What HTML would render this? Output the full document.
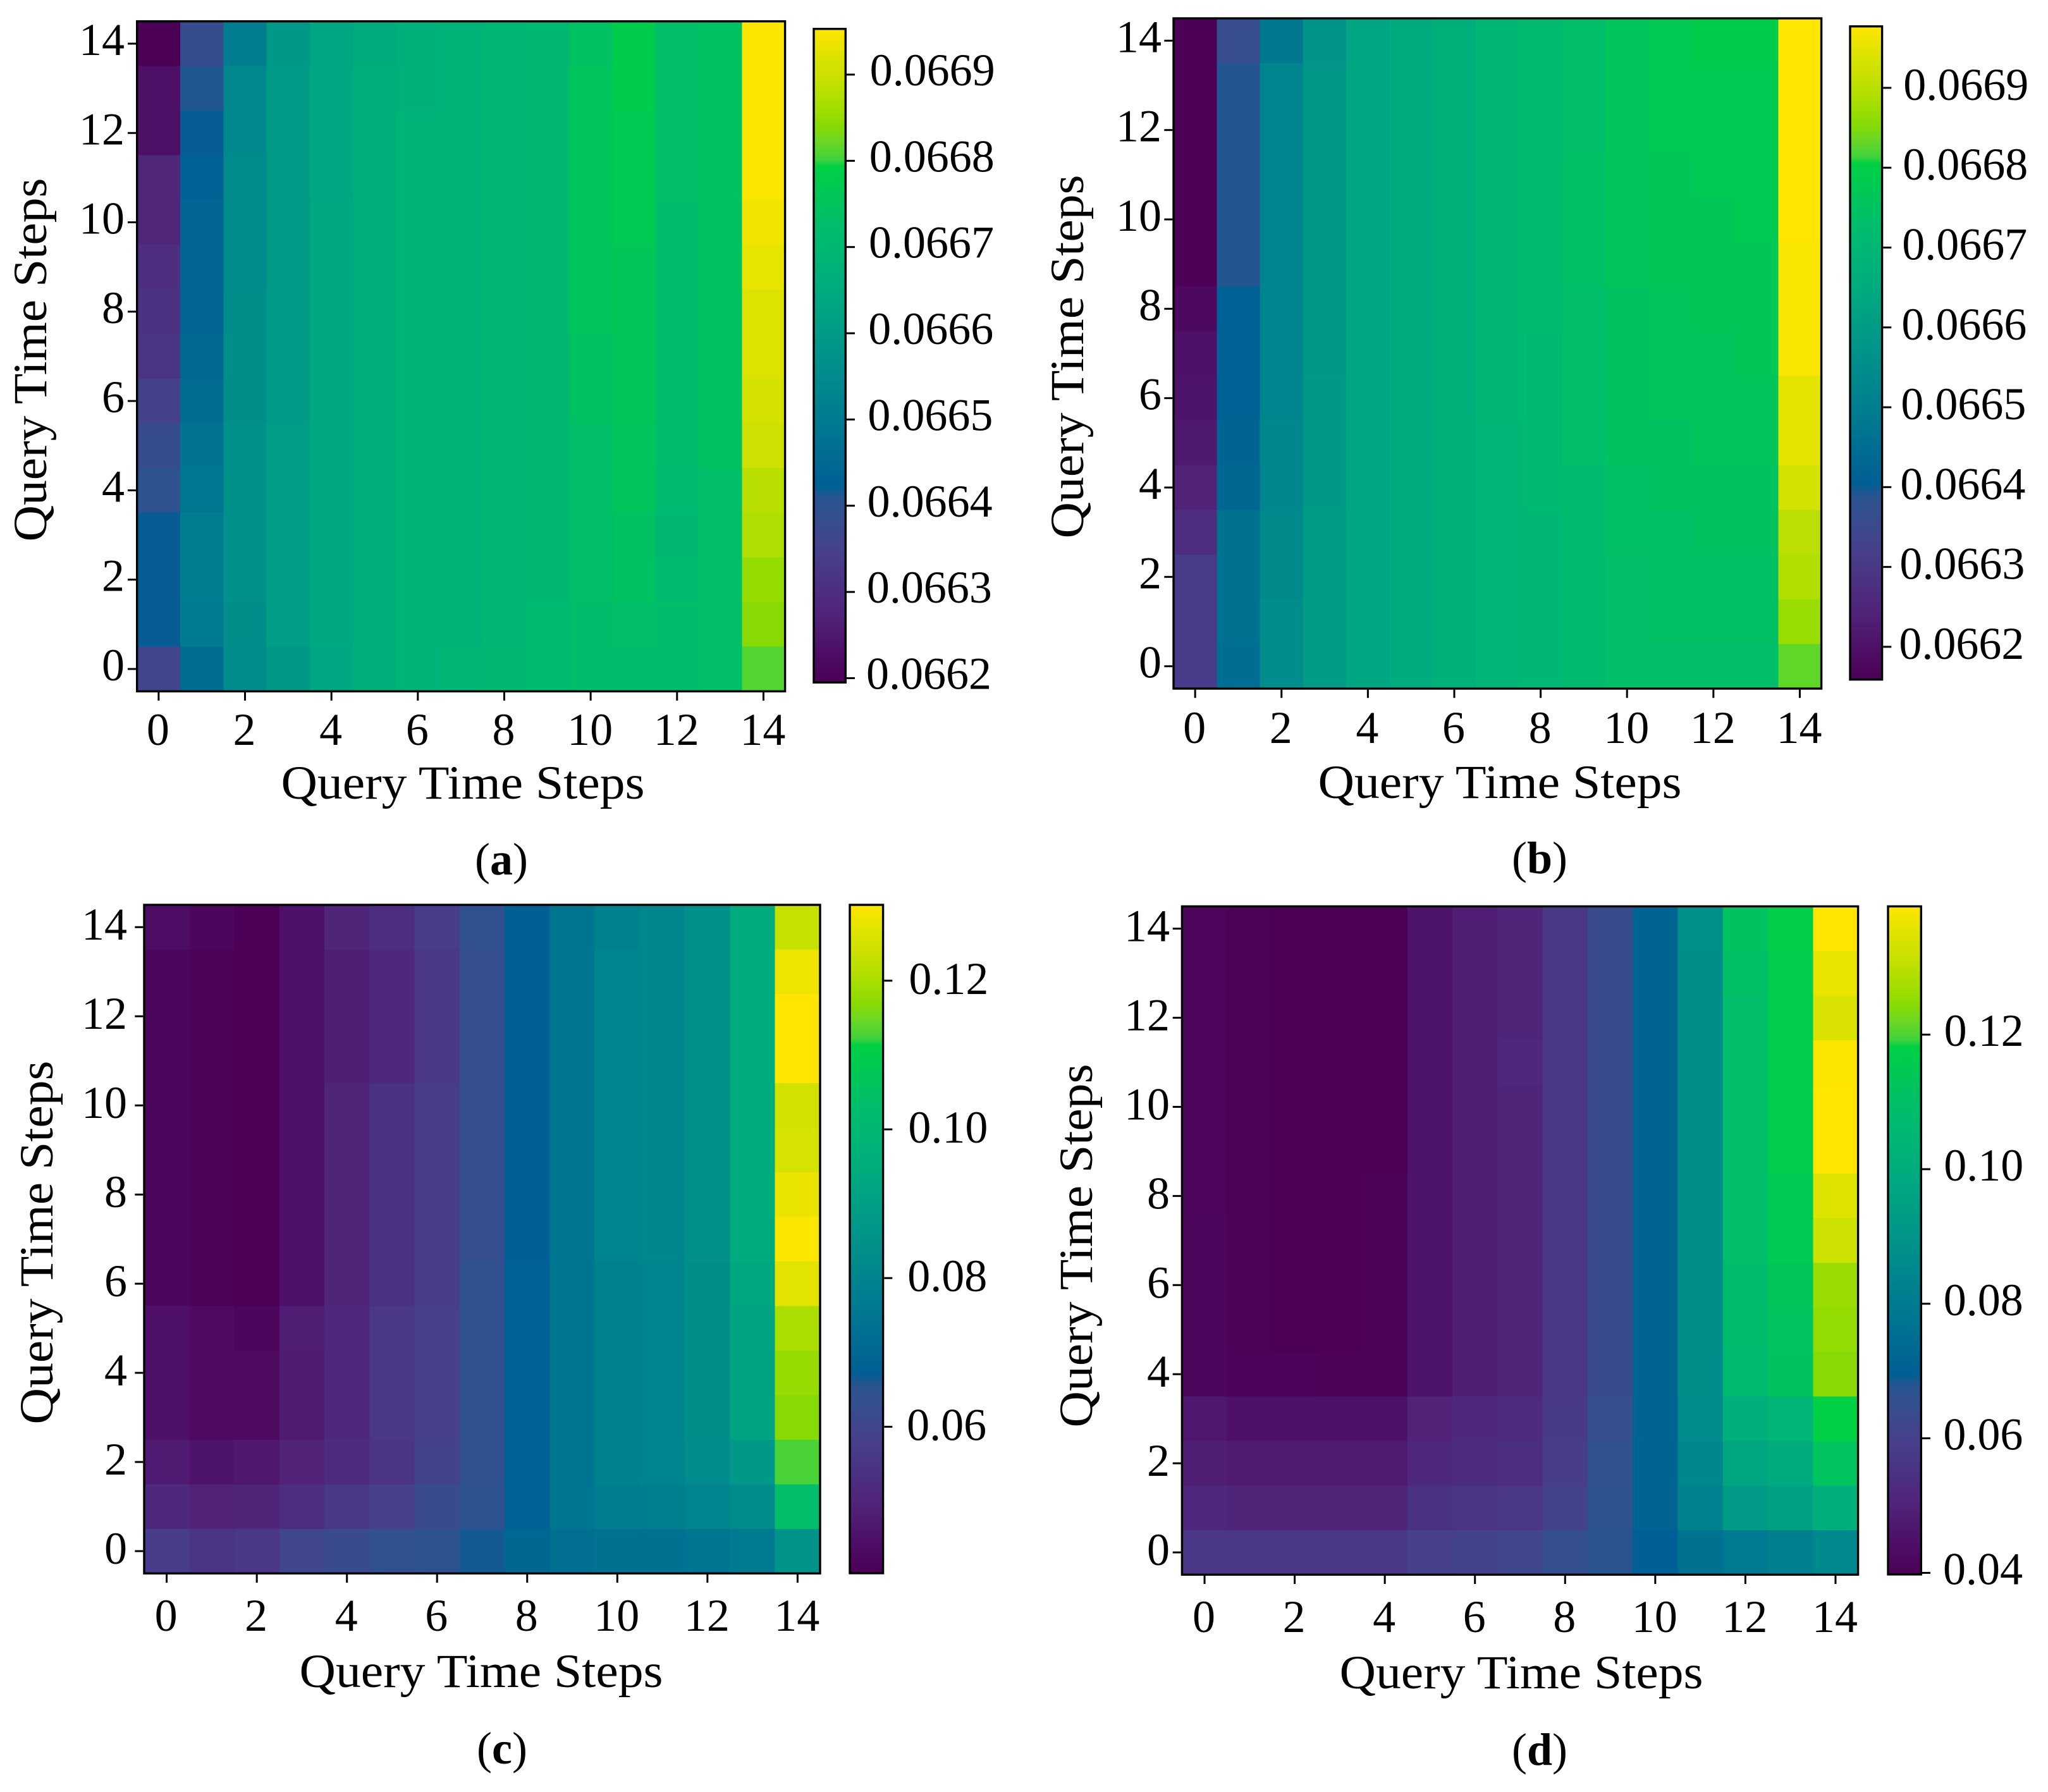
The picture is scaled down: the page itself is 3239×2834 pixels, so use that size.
<!DOCTYPE html>
<html lang="en">
<head>
<meta charset="utf-8">
<title>Query Time Steps heatmaps</title>
<style>
html,body{margin:0;padding:0;background:#fff;}
svg{display:block;}
text{font-family:"Liberation Serif",serif;fill:#000;}
</style>
</head>
<body>
<svg id="figure" xmlns="http://www.w3.org/2000/svg" width="3239" height="2834" viewBox="0 0 3239 2834"></svg>
<script>
// Axis tick indices shared by all panels
const axisTicks = [0, 2, 4, 6, 8, 10, 12, 14];

// Colormap
const cmapPositions = [0, .05, .1, .2, .25, .28, .30, .4, .5, .6, .65, .7, .79, .80, .83, .85, .88, .92, .96, 1];
const cmapColors = ["#4b0055","#4e1068","#502278","#47408c","#354e8e","#2a5490","#005f94","#007a90","#00938a","#00ab7e","#00b576","#00be6a","#00d044","#40d23c","#70d820","#88da05","#a4de00","#c6e000","#dfe300","#ffe600"];

// Heat values: each inner array is one x column, listed from y=14 down to y=0
const panelAValues = [
[.06619,.06623,.06623,.06628,.06628,.06630,.06631,.06632,.06635,.06638,.06640,.06642,.06642,.06642,.06636],
[.06638,.06641,.06642,.06643,.06644,.06644,.06644,.06645,.06646,.06648,.06649,.06651,.06651,.06650,.06646],
[.06651,.06654,.06654,.06655,.06655,.06655,.06656,.06656,.06656,.06657,.06657,.06657,.06657,.06656,.06655],
[.06659,.06660,.06660,.06660,.06660,.06660,.06660,.06660,.06660,.06661,.06661,.06661,.06661,.06661,.06659],
[.06663,.06663,.06663,.06663,.06664,.06664,.06664,.06664,.06664,.06664,.06664,.06664,.06664,.06664,.06663],
[.06665,.06666,.06666,.06666,.06666,.06666,.06666,.06666,.06666,.06666,.06666,.06666,.06666,.06666,.06666],
[.06667,.06667,.06668,.06668,.06668,.06668,.06668,.06668,.06668,.06668,.06668,.06668,.06668,.06668,.06668],
[.06668,.06668,.06668,.06668,.06668,.06668,.06668,.06668,.06668,.06668,.06668,.06668,.06668,.06668,.06669],
[.06669,.06669,.06669,.06669,.06669,.06669,.06669,.06669,.06669,.06669,.06669,.06669,.06669,.06669,.06670],
[.06670,.06670,.06670,.06670,.06670,.06670,.06670,.06670,.06670,.06670,.06670,.06670,.06670,.06671,.06671],
[.06674,.06675,.06675,.06675,.06675,.06675,.06675,.06674,.06674,.06673,.06673,.06673,.06673,.06672,.06672],
[.06678,.06678,.06677,.06677,.06677,.06676,.06676,.06676,.06676,.06675,.06675,.06674,.06674,.06673,.06672],
[.06673,.06673,.06673,.06673,.06672,.06672,.06672,.06672,.06672,.06672,.06671,.06670,.06671,.06672,.06672],
[.06674,.06674,.06674,.06674,.06674,.06674,.06674,.06674,.06674,.06674,.06673,.06673,.06673,.06673,.06673],
[.06695,.06695,.06695,.06695,.06694,.06693,.06692,.06692,.06691,.06690,.06688,.06687,.06685,.06684,.06681]
];
const panelBValues = [
[.06616,.06616,.06616,.06616,.06616,.06616,.06618,.06620,.06621,.06622,.06624,.06627,.06631,.06631,.06631],
[.06636,.06639,.06639,.06639,.06639,.06639,.06641,.06641,.06641,.06642,.06643,.06646,.06646,.06646,.06645],
[.06648,.06652,.06652,.06652,.06652,.06652,.06652,.06652,.06652,.06653,.06653,.06654,.06654,.06655,.06655],
[.06657,.06658,.06658,.06658,.06658,.06658,.06658,.06658,.06659,.06659,.06659,.06660,.06660,.06660,.06660],
[.06663,.06663,.06663,.06663,.06663,.06663,.06663,.06663,.06663,.06663,.06663,.06663,.06663,.06663,.06663],
[.06665,.06665,.06665,.06665,.06665,.06665,.06665,.06665,.06665,.06665,.06665,.06665,.06665,.06665,.06665],
[.06667,.06667,.06667,.06667,.06667,.06667,.06667,.06667,.06667,.06667,.06667,.06667,.06667,.06667,.06667],
[.06670,.06670,.06670,.06670,.06670,.06670,.06670,.06670,.06670,.06669,.06669,.06669,.06669,.06669,.06669],
[.06672,.06672,.06672,.06672,.06672,.06672,.06672,.06671,.06671,.06671,.06671,.06670,.06670,.06670,.06670],
[.06673,.06673,.06673,.06674,.06674,.06674,.06673,.06673,.06673,.06673,.06672,.06672,.06672,.06672,.06672],
[.06676,.06676,.06676,.06676,.06676,.06676,.06675,.06675,.06675,.06675,.06674,.06674,.06673,.06673,.06673],
[.06678,.06678,.06678,.06677,.06677,.06677,.06676,.06676,.06676,.06675,.06675,.06674,.06674,.06674,.06673],
[.06679,.06678,.06678,.06678,.06677,.06677,.06677,.06676,.06676,.06676,.06675,.06675,.06674,.06674,.06673],
[.06679,.06678,.06678,.06678,.06678,.06677,.06677,.06677,.06676,.06676,.06675,.06675,.06674,.06674,.06673],
[.06698,.06698,.06698,.06698,.06698,.06697,.06697,.06697,.06695,.06695,.06693,.06690,.06689,.06687,.06683]
];
const panelCValues = [
[.0439,.0421,.0421,.0421,.0421,.0421,.0421,.0421,.0421,.0448,.0448,.0448,.0475,.0511,.0574],
[.0421,.0408,.0408,.0408,.0408,.0408,.0408,.0408,.0408,.0430,.0430,.0430,.0457,.0493,.0547],
[.0403,.0403,.0403,.0403,.0403,.0403,.0403,.0403,.0403,.0421,.0430,.0430,.0466,.0502,.0556],
[.0448,.0448,.0448,.0448,.0448,.0448,.0448,.0448,.0448,.0484,.0475,.0475,.0493,.0529,.0601],
[.0502,.0484,.0484,.0484,.0502,.0502,.0502,.0502,.0502,.0511,.0511,.0511,.0520,.0556,.0619],
[.0529,.0511,.0511,.0511,.0538,.0538,.0538,.0538,.0538,.0556,.0556,.0556,.0547,.0583,.0637],
[.0574,.0556,.0556,.0556,.0574,.0574,.0574,.0574,.0574,.0583,.0583,.0583,.0592,.0619,.0646],
[.0637,.0628,.0628,.0628,.0628,.0628,.0628,.0628,.0637,.0637,.0637,.0637,.0637,.0646,.0664],
[.0673,.0673,.0673,.0673,.0673,.0673,.0673,.0673,.0682,.0682,.0682,.0682,.0682,.0682,.0700],
[.0745,.0745,.0745,.0745,.0745,.0745,.0745,.0745,.0745,.0745,.0745,.0745,.0745,.0745,.0727],
[.0790,.0799,.0799,.0799,.0799,.0799,.0799,.0799,.0790,.0790,.0790,.0790,.0790,.0772,.0736],
[.0808,.0808,.0808,.0808,.0808,.0808,.0808,.0808,.0799,.0799,.0799,.0799,.0799,.0781,.0736],
[.0844,.0844,.0844,.0844,.0844,.0844,.0844,.0844,.0835,.0835,.0835,.0835,.0826,.0799,.0745],
[.0942,.0942,.0942,.0942,.0942,.0942,.0942,.0942,.0933,.0915,.0915,.0915,.0870,.0826,.0763],
[.1230,.1284,.1302,.1302,.1248,.1253,.1280,.1298,.1271,.1199,.1181,.1167,.1127,.1032,.0853]
];
const panelDValues = [
[.0413,.0413,.0413,.0413,.0413,.0413,.0413,.0418,.0418,.0418,.0418,.0467,.0487,.0517,.0567],
[.0403,.0403,.0403,.0403,.0403,.0403,.0403,.0403,.0403,.0403,.0408,.0447,.0477,.0507,.0567],
[.0398,.0398,.0398,.0398,.0398,.0398,.0398,.0398,.0398,.0398,.0408,.0447,.0477,.0507,.0567],
[.0398,.0398,.0398,.0398,.0398,.0398,.0398,.0398,.0398,.0398,.0403,.0447,.0477,.0507,.0567],
[.0398,.0398,.0398,.0398,.0398,.0398,.0403,.0403,.0403,.0403,.0403,.0447,.0477,.0507,.0567],
[.0457,.0457,.0457,.0457,.0457,.0457,.0457,.0457,.0457,.0457,.0457,.0497,.0517,.0547,.0596],
[.0487,.0487,.0487,.0487,.0487,.0487,.0487,.0487,.0487,.0487,.0487,.0517,.0527,.0557,.0606],
[.0507,.0507,.0507,.0517,.0507,.0507,.0507,.0507,.0507,.0507,.0507,.0527,.0537,.0567,.0616],
[.0567,.0567,.0567,.0567,.0567,.0567,.0567,.0567,.0567,.0567,.0567,.0577,.0586,.0606,.0646],
[.0636,.0636,.0636,.0636,.0636,.0636,.0636,.0636,.0636,.0636,.0636,.0646,.0656,.0666,.0676],
[.0715,.0715,.0715,.0715,.0715,.0715,.0715,.0715,.0715,.0715,.0715,.0715,.0715,.0715,.0696],
[.0884,.0874,.0874,.0874,.0874,.0874,.0874,.0874,.0874,.0874,.0874,.0864,.0845,.0825,.0765],
[.1113,.1103,.1093,.1093,.1093,.1093,.1093,.1093,.1083,.1083,.1073,.1013,.0973,.0924,.0795],
[.1172,.1162,.1162,.1162,.1162,.1162,.1152,.1152,.1133,.1123,.1113,.1043,.0993,.0954,.0815],
[.1391,.1366,.1341,.1386,.1391,.1391,.1351,.1321,.1262,.1252,.1242,.1182,.1123,.1013,.0854]
];

// Colorbar tick values and printed labels
const panelATickValues = [.0662, .0663, .0664, .0665, .0666, .0667, .0668, .0669];
const panelATickLabels = ["0.0662", "0.0663", "0.0664", "0.0665", "0.0666", "0.0667", "0.0668", "0.0669"];
const panelBTickValues = [.0662, .0663, .0664, .0665, .0666, .0667, .0668, .0669];
const panelBTickLabels = ["0.0662", "0.0663", "0.0664", "0.0665", "0.0666", "0.0667", "0.0668", "0.0669"];
const panelCTickValues = [.06, .08, .10, .12];
const panelCTickLabels = ["0.06", "0.08", "0.10", "0.12"];
const panelDTickValues = [.04, .06, .08, .10, .12];
const panelDTickLabels = ["0.04", "0.06", "0.08", "0.10", "0.12"];

// Layout of each panel
const panels = [
  {id:"a", values:panelAValues, tickValues:panelATickValues, tickLabels:panelATickLabels, vmin:.066195, vmax:.066953,
   L:215, R:1243.3, T:32, B:1095, cL:1285.3, cR:1339, cT:44, cB:1081,
   xTickBase:1178, xTitleX:732, xTitleY:1263, capX:793, capY:1383, yTitleX:73, yTitleY:569, yLabelR:197, yLabelDy:18, cLabelBottom:1370, cLabelTop:1376, cLabelDy:17},
  {id:"b", values:panelBValues, tickValues:panelBTickValues, tickLabels:panelBTickLabels, vmin:.066159, vmax:.066977,
   L:1854.3, R:2882.3, T:27.3, B:1090.7, cL:2924.3, cR:2978.3, cT:40, cB:1076.4,
   xTickBase:1175, xTitleX:2372, xTitleY:1262, capX:2435, capY:1381, yTitleX:1713, yTitleY:564, yLabelR:1837, yLabelDy:18, cLabelBottom:3003, cLabelTop:3011, cLabelDy:19},
  {id:"c", values:panelCValues, tickValues:panelCTickValues, tickLabels:panelCTickLabels, vmin:.0403, vmax:.1302,
   L:226.3, R:1298.7, T:1429.3, B:2490, cL:1342.3, cR:1398.3, cT:1429.3, cB:2489.7,
   xTickBase:2579, xTitleX:761, xTitleY:2668, capX:794, capY:2789, yTitleX:83, yTitleY:1965, yLabelR:201, yLabelDy:20, cLabelBottom:1433, cLabelTop:1438, cLabelDy:21},
  {id:"d", values:panelDValues, tickValues:panelDTickValues, tickLabels:panelDTickLabels, vmin:.03977, vmax:.13906,
   L:1867.7, R:2940.3, T:1431.7, B:2492, cL:2984.3, cR:3040, cT:1431.7, cB:2491.6,
   xTickBase:2581, xTitleX:2406, xTitleY:2670, capX:2435, capY:2791, yTitleX:1727, yTitleY:1970, yLabelR:1850, yLabelDy:20, cLabelBottom:3073, cLabelTop:3075, cLabelDy:18}
];

const NS = "http://www.w3.org/2000/svg";
const svg = document.getElementById("figure");
const BORDER = 3.4, TICK_LEN = 13, TICK_W = 3, TICK_FONT = 72, TITLE_FONT = 75, CAP_FONT = 72, TITLE_LEN = 575;

function hexToRgb(h){return [1,3,5].map(i=>parseInt(h.substr(i,2),16));}
function colorAt(t){
  t = Math.max(0, Math.min(1, t));
  let i = 0;
  while(i < cmapPositions.length-2 && t > cmapPositions[i+1]) i++;
  const f = (t-cmapPositions[i])/(cmapPositions[i+1]-cmapPositions[i]);
  const a = hexToRgb(cmapColors[i]), b = hexToRgb(cmapColors[i+1]);
  return "rgb("+a.map((c,k)=>Math.round(c+(b[k]-c)*f)).join(",")+")";
}
function make(parent, tag, attrs, txt){
  const el = document.createElementNS(NS, tag);
  for(const k in attrs) el.setAttribute(k, attrs[k]);
  if(txt !== undefined) el.textContent = txt;
  parent.appendChild(el);
  return el;
}

// Gradient definitions
const defs = make(svg, "defs", {});
const gradient = make(defs, "linearGradient", {id:"cmap-gradient", x1:0, y1:1, x2:0, y2:0});
cmapPositions.forEach((p,i)=>{
  make(gradient, "stop", {offset:p, "stop-color":cmapColors[i]});
});

panels.forEach(p=>{
  const group = make(svg, "g", {});
  
  

  const inL = p.L + BORDER/2, inR = p.R - BORDER/2, inT = p.T + BORDER/2, inB = p.B - BORDER/2;
  const cols = p.values.length, rows = p.values[0].length;
  const cellW = (inR-inL)/cols, cellH = (inB-inT)/rows;
  const xScale = i => inL + (i+.5)*cellW;
  const yScale = i => inB - (i+.5)*cellH;
  const norm = v => (v-p.vmin)/(p.vmax-p.vmin);

  // Heatmap cells
  const cells = make(group, "g", {"shape-rendering":"crispEdges"});
  
  
  p.values.forEach((col,cx)=>{
    col.forEach((v,ri)=>{
      const yIdx = rows-1-ri;
      const cell = make(cells, "rect", {
        x:xScale(cx)-cellW/2, y:yScale(yIdx)-cellH/2,
        width:cellW+.5, height:cellH+.5, fill:colorAt(norm(v))
      });
      
      
    });
  });

  // Plot frame
  const frame = make(group, "rect", {x:inL, y:inT, width:inR-inL, height:inB-inT, fill:"none", stroke:"#000", "stroke-width":BORDER});
  
  

  // Axis ticks and labels
  axisTicks.forEach(t=>{
    const xt = make(group, "line", {x1:xScale(t), x2:xScale(t), y1:p.B, y2:p.B+TICK_LEN, stroke:"#000", "stroke-width":TICK_W});
    
    
    const xl = make(group, "text", {x:xScale(t)-1, y:p.xTickBase, "text-anchor":"middle", "font-size":TICK_FONT}, String(t));
    
    
    const yt = make(group, "line", {x1:p.L-TICK_LEN, x2:p.L, y1:yScale(t), y2:yScale(t), stroke:"#000", "stroke-width":TICK_W});
    
    
    const yl = make(group, "text", {x:p.yLabelR, y:yScale(t)+p.yLabelDy, "text-anchor":"end", "font-size":TICK_FONT}, String(t));
    
    
  });

  // Axis titles
  const xTitle = make(group, "text", {x:p.xTitleX, y:p.xTitleY, "text-anchor":"middle", "font-size":TITLE_FONT, textLength:TITLE_LEN, lengthAdjust:"spacingAndGlyphs"}, "Query Time Steps");
  
  
  const yTitle = make(group, "text", {x:0, y:0, transform:"translate("+p.yTitleX+" "+p.yTitleY+") rotate(-90)", "text-anchor":"middle", "font-size":TITLE_FONT, textLength:TITLE_LEN, lengthAdjust:"spacingAndGlyphs"}, "Query Time Steps");
  
  

  // Caption
  const cap = make(group, "text", {x:p.capX, y:p.capY, "text-anchor":"middle", "font-size":CAP_FONT});
  
  
  make(cap, "tspan", {}, "(");
  make(cap, "tspan", {"font-weight":"bold"}, p.id);
  make(cap, "tspan", {}, ")");

  // Colorbar
  const cInT = p.cT + BORDER/2, cInB = p.cB - BORDER/2, cInL = p.cL + BORDER/2, cInR = p.cR - BORDER/2;
  const cScale = v => cInB - norm(v)*(cInB-cInT);
  const bar = make(group, "rect", {x:cInL, y:cInT, width:cInR-cInL, height:cInB-cInT, fill:"url(#cmap-gradient)", stroke:"#000", "stroke-width":BORDER});
  
  
  p.tickValues.forEach((v,i)=>{
    const y = cScale(v);
    const tick = make(group, "line", {x1:p.cR, x2:p.cR+TICK_LEN, y1:y, y2:y, stroke:"#000", "stroke-width":TICK_W});
    
    
    const lx = p.cLabelBottom + (p.cLabelTop-p.cLabelBottom)*norm(v);
    const label = make(group, "text", {x:lx, y:y+p.cLabelDy, "font-size":TICK_FONT}, p.tickLabels[i]);
    
    
  });
});
</script>
</body>
</html>
